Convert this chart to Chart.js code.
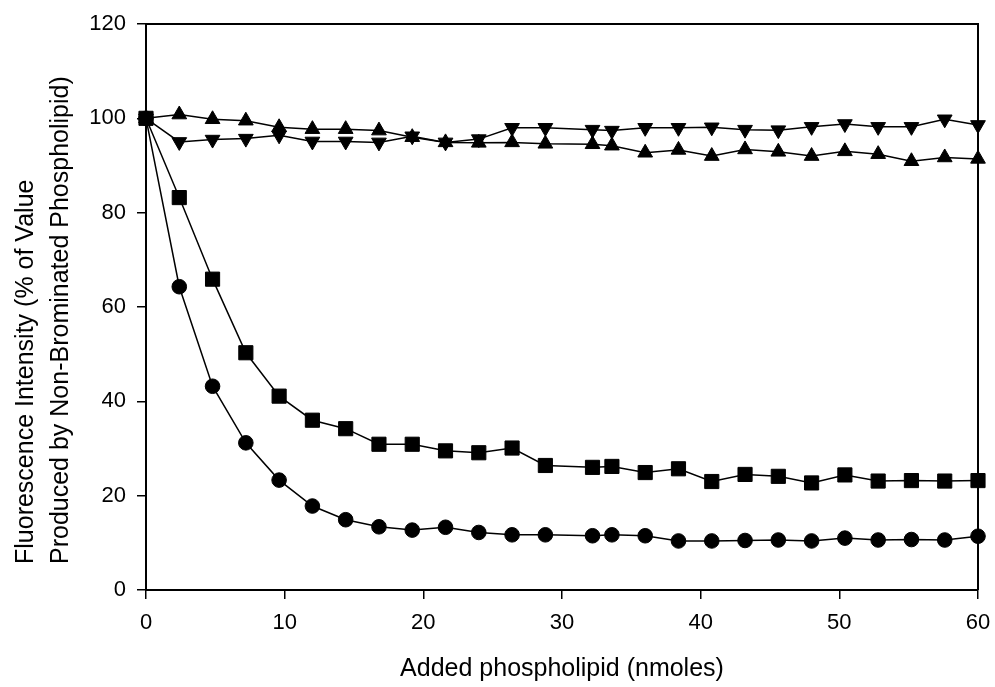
<!DOCTYPE html>
<html>
<head>
<meta charset="utf-8">
<script src="https://cdn.jsdelivr.net/npm/chart.js@4.4.0/dist/chart.umd.min.js"></script>
<style>
  html, body { margin: 0; padding: 0; background: #fff; }
  #wrap { width: 995px; height: 687px; }
</style>
</head>
<body>
<div id="wrap"><canvas id="myChart" width="995" height="687"></canvas></div>
<script>
// added phospholipid (nmoles)
const phospholipid = [0, 2.4, 4.8, 7.2, 9.6, 12, 14.4, 16.8, 19.2, 21.6, 24, 26.4, 28.8,
  32.2, 33.6, 36, 38.4, 40.8, 43.2, 45.6, 48, 50.4, 52.8, 55.2, 57.6, 60];

// fluorescence, % of non-brominated value
const circles = [100, 64.3, 43.2, 31.2, 23.3, 17.8, 14.9, 13.4, 12.7, 13.3, 12.2, 11.7, 11.7,
  11.5, 11.7, 11.5, 10.4, 10.4, 10.5, 10.6, 10.4, 11.0, 10.6, 10.7, 10.6, 11.4];
const squares = [100, 83.2, 65.9, 50.3, 41.1, 36.0, 34.2, 30.9, 30.9, 29.5, 29.1, 30.1, 26.4,
  26.0, 26.2, 24.9, 25.7, 23.0, 24.5, 24.1, 22.7, 24.4, 23.1, 23.2, 23.1, 23.2];
const upTriangles = [100, 100.8, 99.8, 99.5, 98.1, 97.7, 97.7, 97.4, 96.0, 94.9, 94.8, 94.9, 94.6,
  94.5, 94.2, 92.7, 93.3, 92.0, 93.4, 92.9, 92.0, 93.0, 92.4, 90.9, 91.7, 91.4];
const downTriangles = [100, 95.0, 95.5, 95.7, 96.4, 95.1, 95.1, 94.9, 96.2, 94.9, 95.6, 98.0, 98.0,
  97.6, 97.4, 98.0, 98.0, 98.1, 97.6, 97.5, 98.2, 98.8, 98.2, 98.2, 99.8, 98.6];

const xTickValues = [0, 10, 20, 30, 40, 50, 60];
const yTickValues = [0, 20, 40, 60, 80, 100, 120];

const xTitle = 'Added phospholipid (nmoles)';
const yTitle = ['Fluorescence Intensity (% of Value', 'Produced by Non-Brominated Phospholipid)'];

const FONT = "Arial, 'Liberation Sans', sans-serif";
Chart.defaults.font.family = FONT;
Chart.defaults.color = '#000';

const toPoints = (ys) => phospholipid.map((x, i) => ({ x: x, y: ys[i] }));

const series = (ys, style, radius, rotation) => ({
  data: toPoints(ys),
  borderColor: '#000',
  borderWidth: 1.5,
  backgroundColor: '#000',
  pointStyle: style,
  pointRadius: radius,
  pointHoverRadius: radius,
  pointRotation: rotation || 0,
  pointBackgroundColor: '#000',
  pointBorderColor: '#000',
  pointBorderWidth: 1,
  tension: 0,
  clip: false
});

// box frame on top and right
const framePlugin = {
  id: 'frame',
  beforeDatasetsDraw(chart) {
    const { ctx, chartArea: a } = chart;
    ctx.save();
    ctx.strokeStyle = '#000';
    ctx.lineWidth = 2;
    ctx.beginPath();
    ctx.moveTo(a.left, a.top);
    ctx.lineTo(a.right, a.top);
    ctx.lineTo(a.right, a.bottom);
    ctx.stroke();
    ctx.restore();
  }
};

// two-line y title, both lines starting at the same height
const yTitlePlugin = {
  id: 'yTitle',
  afterDraw(chart) {
    const ctx = chart.ctx;
    ctx.save();
    ctx.fillStyle = '#000';
    ctx.font = '25px ' + FONT;
    ctx.textAlign = 'left';
    ctx.textBaseline = 'alphabetic';
    const baselines = [33, 68];
    yTitle.forEach((line, i) => {
      ctx.save();
      ctx.translate(baselines[i], 564);
      ctx.rotate(-Math.PI / 2);
      ctx.fillText(line, 0, 0);
      ctx.restore();
    });
    ctx.restore();
  }
};

const grid = {
  display: true,
  drawOnChartArea: false,
  drawTicks: true,
  tickLength: 9,
  color: '#000',
  lineWidth: 1.5
};

new Chart(document.getElementById('myChart').getContext('2d'), {
  type: 'line',
  data: {
    datasets: [
      series(upTriangles, 'triangle', 8.5, 0),
      series(downTriangles, 'triangle', 8.5, 180),
      series(squares, 'rect', 10, 0),
      series(circles, 'circle', 7.3, 0)
    ]
  },
  options: {
    responsive: false,
    animation: false,
    events: [],
    layout: { padding: { top: 24, right: 17, left: 0, bottom: 0 } },
    plugins: { legend: { display: false }, tooltip: { enabled: false } },
    scales: {
      x: {
        type: 'linear',
        min: 0,
        max: 60,
        afterBuildTicks: (scale) => { scale.ticks = xTickValues.map(v => ({ value: v })); },
        afterFit: (scale) => {
          scale.height = 97;
          scale.paddingLeft = 0;
          scale.paddingRight = 0;
        },
        grid: grid,
        border: { display: true, color: '#000', width: 2 },
        ticks: { font: { size: 22 }, color: '#000', padding: 11, maxRotation: 0 },
        title: { display: true, text: xTitle, font: { size: 25 }, color: '#000', padding: { top: 0, bottom: 3 } }
      },
      y: {
        type: 'linear',
        min: 0,
        max: 120,
        afterBuildTicks: (scale) => { scale.ticks = yTickValues.map(v => ({ value: v })); },
        afterFit: (scale) => {
          scale.width = 146;
          scale.paddingTop = 0;
          scale.paddingBottom = 0;
        },
        grid: grid,
        border: { display: true, color: '#000', width: 2 },
        ticks: { font: { size: 22 }, color: '#000', padding: 11 }
      }
    }
  },
  plugins: [framePlugin, yTitlePlugin]
});
</script>
</body>
</html>
